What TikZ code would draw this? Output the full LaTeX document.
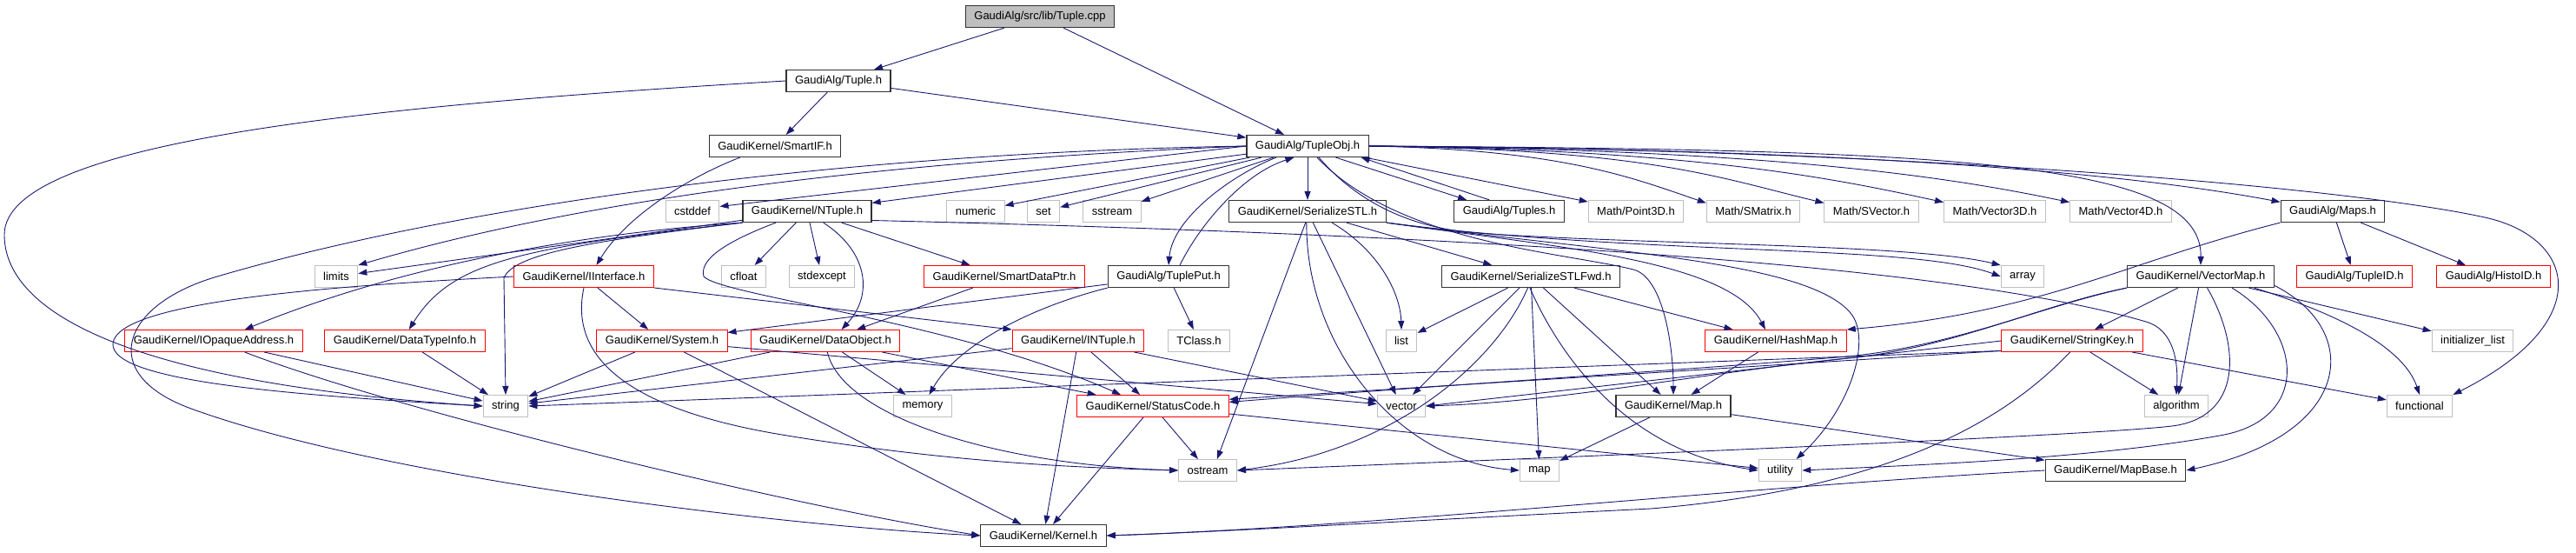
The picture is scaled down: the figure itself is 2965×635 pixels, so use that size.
\documentclass[tikz,border=0pt]{standalone}
\usepackage{fontspec}
\setmainfont{Liberation Sans}
\usetikzlibrary{arrows.meta,calc}
\definecolor{edgeblue}{HTML}{191970}
\definecolor{cutred}{HTML}{FF0000}
\definecolor{sysgray}{HTML}{BFBFBF}

\begin{document}
\begin{tikzpicture}[x=1pt,y=1pt,
  box/.style={rectangle,minimum height=25pt,inner xsep=10pt,inner ysep=0pt,
    font=\fontsize{13}{15}\selectfont},
  docbox/.style={box,draw=black!80,line width=1.2pt},
  sysbox/.style={box,draw=sysgray,line width=1pt},
  cutbox/.style={box,draw=cutred,line width=1pt},
  rootbox/.style={box,draw=black!80,fill=sysgray,line width=1.2pt},
  inc/.style={draw=edgeblue,line width=0.9pt,-{Triangle[length=10pt,width=7pt]}}]

\useasboundingbox (0,0) rectangle (2965,-635);

% rows of headers
\node[rootbox] (cpp) at (1197,-19) {GaudiAlg/src/lib/Tuple.cpp};
\node[docbox] (tupleh) at (965,-93) {GaudiAlg/Tuple.h};
\node[docbox] (smartif) at (892,-168) {GaudiKernel/SmartIF.h};
\node[docbox] (tupleobj) at (1505,-168) {GaudiAlg/TupleObj.h};

\node[sysbox] (cstddef) at (797,-243) {cstddef};
\node[docbox] (ntuple) at (929,-243) {GaudiKernel/NTuple.h};
\node[sysbox] (numeric) at (1123,-243) {numeric};
\node[sysbox] (set) at (1201,-243) {set};
\node[sysbox] (sstream) at (1280,-243) {sstream};
\node[docbox] (serstl) at (1505,-243) {GaudiKernel/SerializeSTL.h};
\node[docbox] (tuples) at (1737,-243) {GaudiAlg/Tuples.h};
\node[sysbox] (point3d) at (1883,-243) {Math/Point3D.h};
\node[sysbox] (smatrix) at (2018,-243) {Math/SMatrix.h};
\node[sysbox] (svector) at (2154,-243) {Math/SVector.h};
\node[sysbox] (vecthree) at (2296,-243) {Math/Vector3D.h};
\node[sysbox] (vecfour) at (2441,-243) {Math/Vector4D.h};
\node[docbox] (maps) at (2685,-243) {GaudiAlg/Maps.h};

\node[sysbox] (limits) at (387,-318) {limits};
\node[cutbox] (iinterface) at (672,-318) {GaudiKernel/IInterface.h};
\node[sysbox] (cfloat) at (856,-318) {cfloat};
\node[sysbox] (stdexcept) at (946,-318) {stdexcept};
\node[cutbox] (smartdataptr) at (1156,-318) {GaudiKernel/SmartDataPtr.h};
\node[docbox] (tupleput) at (1345,-318) {GaudiAlg/TuplePut.h};
\node[docbox] (serstlfwd) at (1762,-318) {GaudiKernel/SerializeSTLFwd.h};
\node[sysbox] (array) at (2328,-318) {array};
\node[docbox] (vectormap) at (2533,-318) {GaudiKernel/VectorMap.h};
\node[cutbox] (tupleid) at (2710,-318) {GaudiAlg/TupleID.h};
\node[cutbox] (histoid) at (2870,-318) {GaudiAlg/HistoID.h};

\node[cutbox] (iopaque) at (246,-392) {GaudiKernel/IOpaqueAddress.h};
\node[cutbox] (datatypeinfo) at (466,-392) {GaudiKernel/DataTypeInfo.h};
\node[cutbox] (system) at (762,-392) {GaudiKernel/System.h};
\node[cutbox] (dataobject) at (950,-392) {GaudiKernel/DataObject.h};
\node[cutbox] (intuple) at (1241,-392) {GaudiKernel/INTuple.h};
\node[sysbox] (tclass) at (1380,-392) {TClass.h};
\node[sysbox] (list) at (1613,-392) {list};
\node[cutbox] (hashmap) at (2044,-392) {GaudiKernel/HashMap.h};
\node[cutbox] (stringkey) at (2385,-392) {GaudiKernel/StringKey.h};
\node[sysbox] (initlist) at (2846,-392) {initializer\_list};

\node[sysbox] (string) at (582,-467) {string};
\node[sysbox] (memory) at (1062,-467) {memory};
\node[cutbox] (statuscode) at (1327,-467) {GaudiKernel/StatusCode.h};
\node[sysbox] (vector) at (1613,-467) {vector};
\node[docbox] (maph) at (1926,-467) {GaudiKernel/Map.h};
\node[sysbox] (algorithm) at (2505,-467) {algorithm};
\node[sysbox] (functional) at (2785,-467) {functional};

\node[sysbox] (ostream) at (1390,-541) {ostream};
\node[sysbox] (map) at (1772,-541) {map};
\node[sysbox] (utility) at (2049,-541) {utility};
\node[docbox] (mapbase) at (2435,-541) {GaudiKernel/MapBase.h};

\node[docbox] (kernel) at (1201,-616) {GaudiKernel/Kernel.h};

% Tuple.cpp, Tuple.h, SmartIF.h
\draw[inc] (cpp) -- (tupleh);
\draw[inc] (cpp) -- (tupleobj);
\draw[inc] (tupleh) -- (smartif);
\draw[inc] (tupleh) -- (tupleobj);
\draw[inc] (tupleh.west) .. controls (450,-120) and (5,-160) .. (5,-270) .. controls (5,-360) and (150,-440) .. (string.west);
\draw[inc] (smartif.-162) .. controls (790,-205) and (720,-250) .. (iinterface.42);

% TupleObj.h
\draw[inc] (tupleobj.west) .. controls (900,-190) and (600,-250) .. (limits.north east);
\draw[inc] (tupleobj.west) -- (cstddef.10);
\draw[inc] (tupleobj) -- (ntuple);
\draw[inc] (tupleobj) -- (numeric);
\draw[inc] (tupleobj) -- (set);
\draw[inc] (tupleobj) -- (sstream);
\draw[inc] (tupleobj) -- (serstl);
\draw[inc] (tupleobj.-22) -- (tuples.165);
\draw[inc] (tuples.150) -- (tupleobj.-12);
\draw[inc] (tupleobj) -- (point3d);
\draw[inc] (tupleobj.east) .. controls (1800,-172) and (1880,-205) .. (smatrix.170);
\draw[inc] (tupleobj.east) .. controls (1900,-172) and (1980,-205) .. (svector.170);
\draw[inc] (tupleobj.east) .. controls (1950,-172) and (2110,-205) .. (vecthree.170);
\draw[inc] (tupleobj.east) .. controls (2050,-172) and (2250,-205) .. (vecfour.170);
\draw[inc] (tupleobj.east) .. controls (2200,-172) and (2480,-205) .. (maps.170);
\draw[inc] (tupleobj.east) .. controls (2250,-172) and (2535,-185) .. (vectormap.north);
\draw[inc] (tupleobj.east) .. controls (2200,-172) and (2700,-215) .. (2860,-250) .. controls (2965,-273) and (2990,-370) .. (functional.north east);
\draw[inc] (tupleobj.-160) .. controls (1420,-200) and (1350,-250) .. (tupleput.north);
\draw[inc] (tupleput.45) .. controls (1380,-260) and (1430,-200) .. (tupleobj.-140);
\draw[inc] (tupleobj.-50) .. controls (1610,-280) and (1800,-290) .. (1880,-310) .. controls (1915,-319) and (1926,-400) .. (maph.north);
\draw[inc] (tupleobj.-45) .. controls (1560,-230) and (1620,-262) .. (1700,-268) .. controls (1900,-282) and (2200,-280) .. (array.north west);
\draw[inc] (tupleobj.west) .. controls (1000,-175) and (550,-230) .. (250,-318) .. controls (140,-350) and (110,-430) .. (220,-470) .. controls (440,-550) and (900,-605) .. (kernel.west);

% NTuple.h
\draw[inc] (ntuple) -- (limits);
\draw[inc] (ntuple) -- (cfloat);
\draw[inc] (ntuple) -- (stdexcept);
\draw[inc] (ntuple) -- (smartdataptr);
\draw[inc] (ntuple.-35) .. controls (1000,-290) and (1005,-340) .. (dataobject.35);
\draw[inc] (ntuple.-160) .. controls (830,-280) and (805,-300) .. (810,-318) .. controls (830,-340) and (1100,-370) .. ($(statuscode.north)+(-37,0)$);
\draw[inc] (ntuple.south west) .. controls (650,-270) and (450,-310) .. (iopaque.20);
\draw[inc] (ntuple.south west) .. controls (600,-285) and (520,-300) .. (datatypeinfo.70);
\draw[inc] (ntuple.south west) .. controls (700,-275) and (590,-290) .. (580,-320) -- (string.north);
\draw[inc] (ntuple.-8) .. controls (1900,-275) and (2300,-320) .. (2470,-370) .. controls (2504,-380) and (2507,-420) .. (algorithm.north);

% IInterface.h and the small headers
\draw[inc] (iinterface) -- (system);
\draw[inc] (iinterface.south east) -- (intuple.north west);
\draw[inc] (iinterface.west) .. controls (400,-328) and (135,-345) .. (130,-395) .. controls (126,-440) and (350,-455) .. (string.west);
\draw[inc] (iinterface.south) .. controls (655,-410) and (720,-470) .. (900,-500) .. controls (1100,-533) and (1250,-538) .. (ostream.west);
\draw[inc] (smartdataptr) -- (dataobject);
\draw[inc] (tupleput) -- (system);
\draw[inc] (tupleput.south west) .. controls (1180,-355) and (1100,-400) .. (memory.60);
\draw[inc] (tupleput) -- (tclass);
\draw[inc] (iopaque) -- (string);
\draw[inc] (iopaque.-20) .. controls (450,-470) and (900,-580) .. (kernel.west);
\draw[inc] (datatypeinfo) -- (string);
\draw[inc] (system) -- (string);
\draw[inc] (system) -- (kernel);
\draw[inc] (system) -- (vector);
\draw[inc] (dataobject) -- (string);
\draw[inc] (dataobject) -- (memory);
\draw[inc] (dataobject) -- (statuscode);
\draw[inc] (dataobject.-80) .. controls (970,-480) and (1150,-535) .. (ostream.west);
\draw[inc] (intuple) -- (string);
\draw[inc] (intuple) -- (statuscode);
\draw[inc] (intuple) -- (kernel);
\draw[inc] (intuple) -- (vector);
\draw[inc] (statuscode) -- (ostream);
\draw[inc] (statuscode) -- (kernel);
\draw[inc] (statuscode) -- (utility);

% SerializeSTL.h, SerializeSTLFwd.h
\draw[inc] (serstl.-25) .. controls (1590,-290) and (1612,-340) .. (list.north);
\draw[inc] (serstl) -- (vector);
\draw[inc] (serstl.-100) -- (ostream.50);
\draw[inc] (serstl.-95) .. controls (1503,-400) and (1610,-530) .. (map.west);
\draw[inc] (serstl) -- (serstlfwd);
\draw[inc] (serstl.south east) .. controls (1800,-285) and (1990,-300) .. ($(hashmap.north)+(-12,0)$);
\draw[inc] (serstl.south east) .. controls (1900,-295) and (2200,-280) .. (array.west);
\draw[inc] (serstl.south east) .. controls (1850,-290) and (2080,-300) .. (2130,-360) .. controls (2155,-390) and (2130,-470) .. (utility.35);
\draw[inc] (serstlfwd) -- (list);
\draw[inc] (serstlfwd) -- (vector);
\draw[inc] (serstlfwd) -- (map);
\draw[inc] (serstlfwd) -- (maph);
\draw[inc] (serstlfwd) -- (hashmap);
\draw[inc] (serstlfwd.-95) .. controls (1800,-420) and (1880,-520) .. (utility.west);
\draw[inc] (serstlfwd.-105) .. controls (1720,-420) and (1600,-520) .. (ostream.east);

% maps
\draw[inc] (hashmap) -- (maph);
\draw[inc] (maph) -- (map);
\draw[inc] (maph) -- (mapbase);
\draw[inc] (mapbase.west) .. controls (2000,-560) and (1600,-605) .. (kernel.east);
\draw[inc] (maps) -- (tupleid);
\draw[inc] (maps) -- (histoid);
\draw[inc] (maps.south west) .. controls (2450,-300) and (2350,-360) .. (hashmap.north east);

% VectorMap.h, StringKey.h
\draw[inc] (vectormap) -- (stringkey);
\draw[inc] (vectormap) -- (algorithm);
\draw[inc] (vectormap) -- (initlist);
\draw[inc] (vectormap.-12) .. controls (2720,-370) and (2770,-410) .. (functional.north);
\draw[inc] (vectormap.-7) .. controls (2720,-380) and (2710,-500) .. (mapbase.east);
\draw[inc] (vectormap.-20) .. controls (2650,-380) and (2660,-480) .. (2560,-500) .. controls (2410,-528) and (2200,-535) .. (utility.east);
\draw[inc] (vectormap.-60) .. controls (2580,-400) and (2580,-480) .. (2500,-490) .. controls (2400,-502) and (1700,-530) .. (ostream.east);
\draw[inc] (vectormap.south west) .. controls (2350,-350) and (2250,-400) .. (2126,-412) .. controls (1950,-430) and (1800,-462) .. (vector.east);
\draw[inc] (vectormap.south west) .. controls (2350,-352) and (2250,-398) .. (2126,-410) .. controls (1950,-425) and (1700,-440) .. (statuscode.3);
\draw[inc] (stringkey) -- (algorithm);
\draw[inc] (stringkey) -- (functional);
\draw[inc] (stringkey.-172) -- (string.east);
\draw[inc] (stringkey.west) -- (vector.east);
\draw[inc] (stringkey.-172) -- (statuscode.5);
\draw[inc] (stringkey.-100) .. controls (2320,-470) and (2200,-560) .. (1900,-585) .. controls (1600,-600) and (1400,-612) .. (kernel.east);
\end{tikzpicture}
\end{document}
